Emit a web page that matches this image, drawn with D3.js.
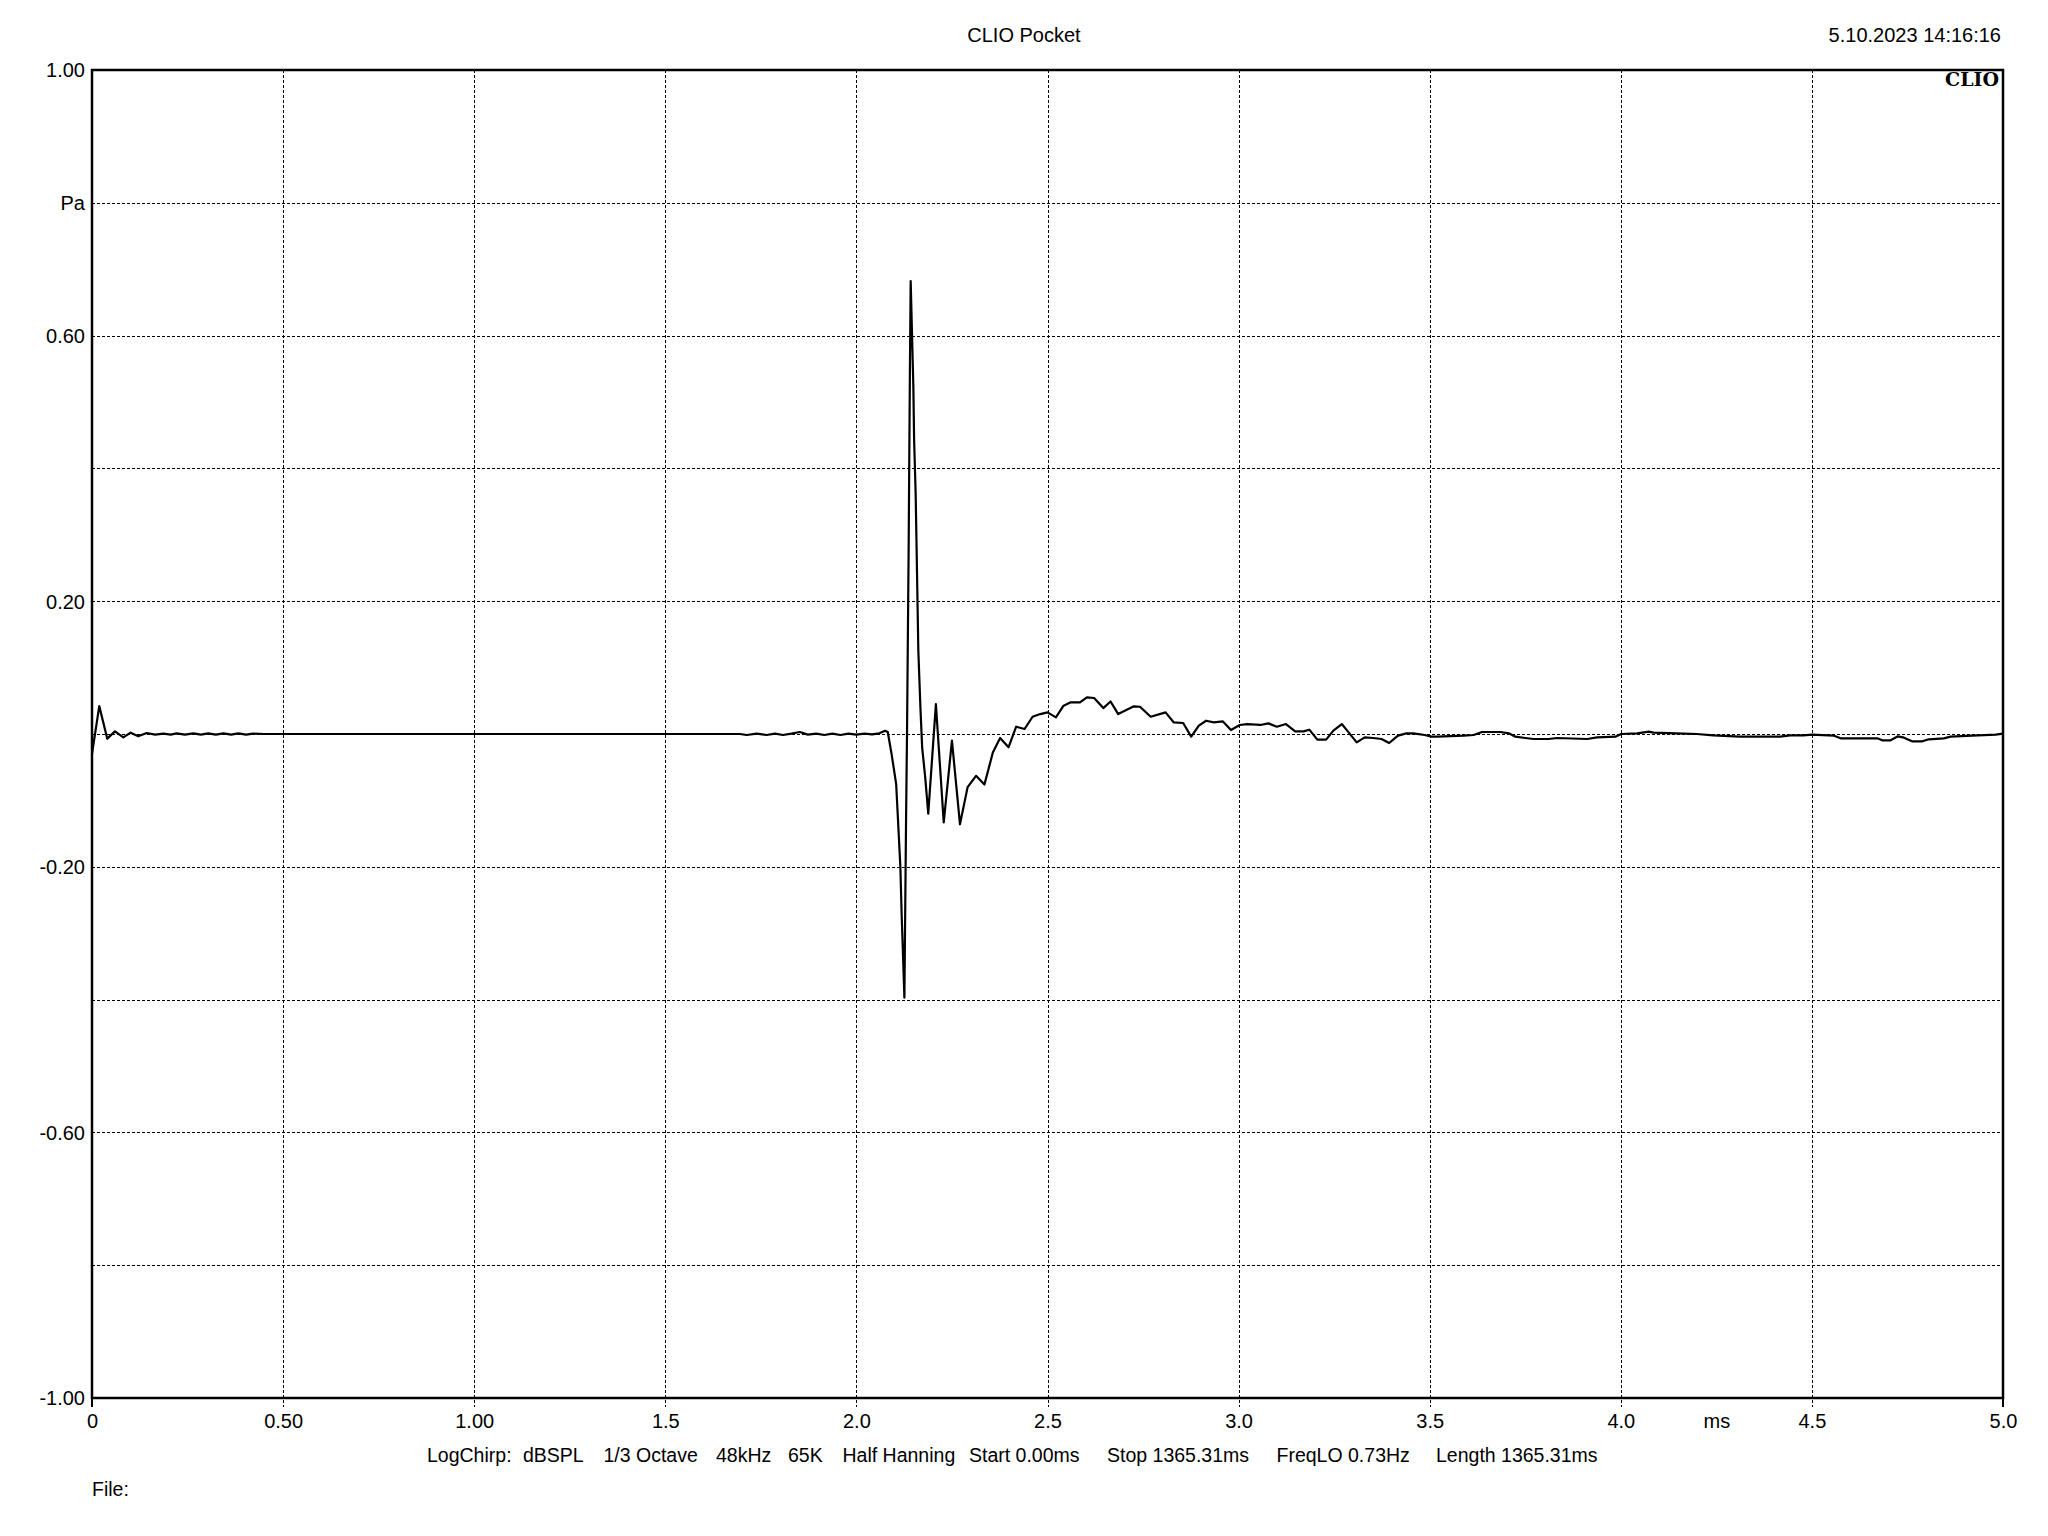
<!DOCTYPE html>
<html>
<head>
<meta charset="utf-8">
<script src="https://cdn.jsdelivr.net/npm/d3@7"></script>
<style>
  html, body { margin: 0; padding: 0; background: #ffffff; }
  svg { display: block; }
</style>
</head>
<body>
<script>
// ---------------- DATA ----------------
const titleText = "CLIO Pocket";
const dateText = "5.10.2023 14:16:16";
const logoText = "CLIO";
const fileText = "File:";
const footerItems = ["LogChirp:", "dBSPL", "1/3 Octave", "48kHz", "65K", "Half Hanning",
  "Start 0.00ms", "Stop 1365.31ms", "FreqLO 0.73Hz", "Length 1365.31ms"];

const xTickValues = [0, 0.5, 1, 1.5, 2, 2.5, 3, 3.5, 4, 4.25, 4.5, 5];
const xTickLabels = ["0", "0.50", "1.00", "1.5", "2.0", "2.5", "3.0", "3.5", "4.0", "ms", "4.5", "5.0"];
const xGridValues = [0.5, 1, 1.5, 2, 2.5, 3, 3.5, 4, 4.5];

const yTickValues = [1, 0.8, 0.6, 0.4, 0.2, 0, -0.2, -0.4, -0.6, -0.8, -1];
const yTickLabels = ["1.00", "Pa", "0.60", "", "0.20", "", "-0.20", "", "-0.60", "", "-1.00"];
const yGridValues = [0.8, 0.6, 0.4, 0.2, 0, -0.2, -0.4, -0.6, -0.8];

// impulse response: time (ms) and pressure (Pa)
const timeMs = [
  0.000, 0.019, 0.040, 0.060, 0.082, 0.101, 0.121, 0.143, 0.165, 0.187,
  0.206, 0.2215, 0.243, 0.265, 0.285, 0.304, 0.324, 0.344, 0.364, 0.383,
  0.403, 0.422, 0.450, 1.695, 1.713, 1.739, 1.765, 1.787, 1.808, 1.830,
  1.852, 1.873, 1.895, 1.916, 1.937, 1.958, 1.979, 2.000, 2.021, 2.041,
  2.060, 2.075, 2.082, 2.092, 2.104, 2.108, 2.115, 2.1186, 2.121, 2.1256,
  2.130, 2.1326, 2.1367, 2.140, 2.142, 2.149, 2.151, 2.155, 2.1575, 2.162,
  2.1675, 2.172, 2.180, 2.188, 2.208, 2.2285, 2.250, 2.271, 2.291, 2.313,
  2.335, 2.357, 2.376, 2.398, 2.418, 2.440, 2.461, 2.481, 2.500, 2.522,
  2.542, 2.561, 2.585, 2.603, 2.622, 2.646, 2.665, 2.685, 2.726, 2.742,
  2.770, 2.809, 2.830, 2.855, 2.876, 2.896, 2.915, 2.935, 2.959, 2.980,
  3.003, 3.022, 3.057, 3.078, 3.100, 3.124, 3.148, 3.170, 3.185, 3.206,
  3.229, 3.248, 3.270, 3.290, 3.309, 3.330, 3.352, 3.374, 3.394, 3.417,
  3.439, 3.457, 3.487, 3.504, 3.519, 3.589, 3.615, 3.637, 3.685, 3.707,
  3.724, 3.750, 3.772, 3.811, 3.833, 3.912, 3.938, 3.986, 4.001, 4.043,
  4.073, 4.086, 4.146, 4.199, 4.242, 4.312, 4.417, 4.443, 4.478, 4.500,
  4.558, 4.575, 4.671, 4.684, 4.706, 4.725, 4.741, 4.762, 4.789, 4.806,
  4.845, 4.863, 4.920, 4.981, 5.000
];
const pressurePa = [
  -0.030, 0.042, -0.007, 0.004, -0.005, 0.002, -0.0035, 0.0015, -0.001, 0.0005,
  -0.001, 0.001, -0.001, 0.001, -0.001, 0.001, -0.001, 0.001, -0.001, 0.001,
  -0.001, 0.0005, 0.000, 0.000, -0.0015, 0.0005, -0.0015, 0.0005, -0.0015, 0.0005,
  0.003, -0.001, 0.0005, -0.0015, 0.0005, -0.0015, 0.0005, -0.001, 0.0005, -0.0005,
  0.001, 0.005, 0.003, -0.030, -0.075, -0.120, -0.200, -0.276, -0.316, -0.397,
  -0.125, 0.010, 0.280, 0.548, 0.682, 0.523, 0.443, 0.363, 0.280, 0.126,
  0.040, -0.020, -0.065, -0.120, 0.045, -0.133, -0.010, -0.136, -0.080, -0.063,
  -0.076, -0.028, -0.006, -0.020, 0.011, 0.0075, 0.026, 0.030, 0.0326, 0.025,
  0.0427, 0.0477, 0.0477, 0.0552, 0.0542, 0.039, 0.049, 0.030, 0.0417, 0.041,
  0.026, 0.0326, 0.0176, 0.0166, -0.004, 0.0126, 0.020, 0.0176, 0.019, 0.006,
  0.0136, 0.015, 0.0136, 0.016, 0.011, 0.015, 0.004, 0.004, 0.0065, -0.0085,
  -0.0085, 0.005, 0.015, 0.001, -0.0126, -0.005, -0.006, -0.0075, -0.0136, -0.0025,
  0.001, 0.001, -0.0015, -0.004, -0.004, -0.0025, -0.0015, 0.003, 0.003, 0.001,
  -0.004, -0.006, -0.0075, -0.0075, -0.006, -0.0075, -0.005, -0.004, 0.000, 0.001,
  0.0035, 0.002, 0.001, 0.000, -0.002, -0.004, -0.004, -0.002, -0.002, -0.001,
  -0.0025, -0.0065, -0.0065, -0.0095, -0.0095, -0.0035, -0.0055, -0.011, -0.011, -0.008,
  -0.0065, -0.004, -0.0025, -0.001, 0.0005
];

// ---------------- LAYOUT ----------------
const W = 2048, H = 1536;
const L = 92, R = 2003, T = 70, B = 1398;
const FONT = "'Liberation Sans', Arial, sans-serif";
const FS = 20;
const FS_FOOT = 19.5;
const footerX = [427, 523, 603.5, 716, 788, 842.5, 969, 1107, 1276.5, 1436];

const svg = d3.select("body").append("svg")
  .attr("width", W).attr("height", H)
  .style("font-family", FONT);

svg.append("rect").attr("width", W).attr("height", H).attr("fill", "#ffffff");

const x = d3.scaleLinear().domain([0, 5]).range([L, R]);
const y = d3.scaleLinear().domain([-1, 1]).range([B, T]);

// grid
const grid = svg.append("g").attr("stroke", "#000").attr("stroke-width", 1)
  .attr("stroke-dasharray", "3,2").attr("shape-rendering", "crispEdges");
grid.selectAll("line.v").data(xGridValues).join("line")
  .attr("x1", d => Math.round(x(d)) + 0.5).attr("x2", d => Math.round(x(d)) + 0.5)
  .attr("y1", T).attr("y2", B + 9);
grid.selectAll("line.h").data(yGridValues).join("line")
  .attr("x1", L).attr("x2", R)
  .attr("y1", d => Math.round(y(d)) + 0.5).attr("y2", d => Math.round(y(d)) + 0.5);

// end ticks below axis at 0 and 5
svg.append("g").selectAll("line").data([0, 5]).join("line")
  .attr("x1", d => x(d)).attr("x2", d => x(d))
  .attr("y1", B).attr("y2", B + 9)
  .attr("stroke", "#000").attr("stroke-width", 2);

// trace
const pts = timeMs.map((t, i) => [t, pressurePa[i]]);
const line = d3.line().x(d => x(d[0])).y(d => y(d[1]));
svg.append("path").datum(pts)
  .attr("d", line)
  .attr("fill", "none").attr("stroke", "#000")
  .attr("stroke-width", 2.2).attr("stroke-linejoin", "round");

// frame
svg.append("rect").attr("x", L).attr("y", T).attr("width", R - L).attr("height", B - T)
  .attr("fill", "none").attr("stroke", "#000").attr("stroke-width", 2.5);

// axes (labels only)
const xAxis = d3.axisBottom(x).tickValues(xTickValues)
  .tickFormat((d, i) => xTickLabels[i]).tickSize(0);
const gx = svg.append("g").attr("transform", `translate(0,${B})`).call(xAxis);
gx.select(".domain").remove();
gx.selectAll("text").attr("y", 30).attr("dy", 0)
  .attr("font-size", FS).attr("font-family", FONT).attr("fill", "#000");

const yAxis = d3.axisLeft(y).tickValues(yTickValues)
  .tickFormat((d, i) => yTickLabels[i]).tickSize(0).tickPadding(7);
const gy = svg.append("g").attr("transform", `translate(${L},0)`).call(yAxis);
gy.select(".domain").remove();
gy.selectAll("text").attr("dy", "0.34em")
  .attr("font-size", FS).attr("font-family", FONT).attr("fill", "#000");

// header texts
svg.append("text").attr("x", 1024).attr("y", 42).attr("text-anchor", "middle")
  .attr("font-size", FS).text(titleText);
svg.append("text").attr("x", 2001).attr("y", 42).attr("text-anchor", "end")
  .attr("font-size", FS).text(dateText);
svg.append("text").attr("x", 1999).attr("y", 86).attr("text-anchor", "end")
  .attr("font-family", "'DejaVu Serif', 'Liberation Serif', serif")
  .attr("font-weight", "bold").attr("font-size", 19).text(logoText);

// footer
svg.append("g").selectAll("text").data(footerItems).join("text")
  .attr("x", (d, i) => footerX[i]).attr("y", 1462)
  .attr("font-size", FS_FOOT).text(d => d);
svg.append("text").attr("x", 92).attr("y", 1496).attr("font-size", FS_FOOT).text(fileText);
</script>
</body>
</html>
